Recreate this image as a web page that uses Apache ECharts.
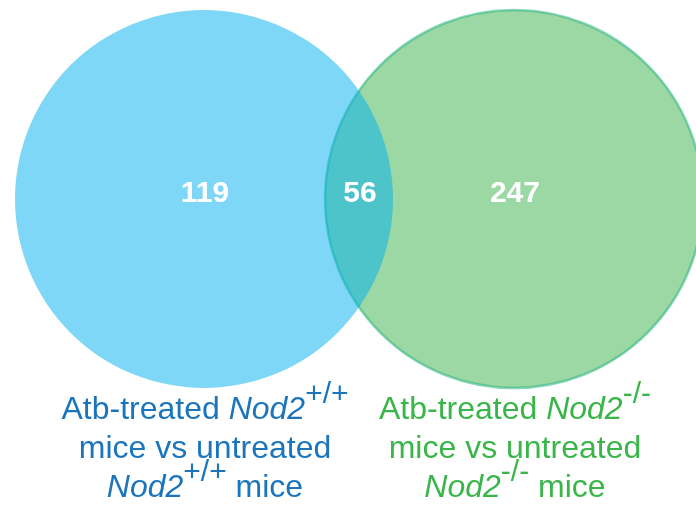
<!DOCTYPE html>
<html>
<head>
<meta charset="utf-8">
<script src="https://cdn.jsdelivr.net/npm/echarts@6/dist/echarts.min.js"></script>
<style>
html,body{margin:0;padding:0;background:#ffffff;}
#chart{width:696px;height:506px;}
</style>
</head>
<body>
<div id="chart"></div>
<script>
// ---- data ----
const setNames = ['Nod2+/+', 'Nod2-/-'];
const labelPrefix = ['Atb-treated ', 'Atb-treated '];
const geneNames = ['Nod2', 'Nod2'];
const genotypes = ['+/+', '-/-'];
const labelMiddle = ['mice vs untreated', 'mice vs untreated'];
const labelTail = [' mice', ' mice'];
const regionNames = ['Nod2+/+ only', 'shared', 'Nod2-/- only'];
const regionCounts = [119, 56, 247];

// ---- layout (units of circle radius) ----
const R = 1;          // circle radius
const D = 1.64;       // distance between circle centres
const setFill = ['rgba(0,175,239,0.5)', 'rgba(56,178,72,0.5)'];
const setStroke = [null, 'rgba(40,180,130,0.55)'];
const textColors = ['#1b75bc', '#39b54a'];
const FONT = '"Liberation Sans", Arial, sans-serif';

const chart = echarts.init(document.getElementById('chart'), null, {renderer: 'canvas'});

// circle items: [cx, cy, r, setIndex]; green drawn first so blue overlays it
const circleData = [[D, 0, R, 1], [0, 0, R, 0]];
const regionX = [0, D / 2, D];
const regionData = regionCounts.map((v, i) => [regionX[i], 0, v]);
const setLabelData = setNames.map((n, i) => [i === 0 ? 0 : D, -R, i]);

const option = {
  animation: false,
  backgroundColor: '#ffffff',
  grid: {left: 0, right: 0, top: 0, bottom: 0, containLabel: false},
  xAxis: {type: 'value', min: -1.0794, max: 2.6032, show: false},
  yAxis: {type: 'value', min: -1.6243, max: 1.0529, show: false},
  series: [
    {
      type: 'custom',
      name: 'sets',
      coordinateSystem: 'cartesian2d',
      data: circleData,
      renderItem: function (params, api) {
        const c = api.coord([api.value(0), api.value(1)]);
        const s = api.size([api.value(2), api.value(2)]);
        const k = api.value(3);
        const style = {fill: setFill[k]};
        if (setStroke[k]) { style.stroke = setStroke[k]; style.lineWidth = 2.5; }
        return {type: 'circle', shape: {cx: c[0], cy: c[1], r: s[0]}, style: style};
      },
      z: 1
    },
    {
      type: 'custom',
      name: 'counts',
      coordinateSystem: 'cartesian2d',
      data: regionData,
      renderItem: function (params, api) {
        const c = api.coord([api.value(0), api.value(1)]);
        return {
          type: 'text',
          style: {
            x: c[0] + 1, y: c[1] - 5.5,
            text: String(api.value(2)),
            fill: '#ffffff',
            font: 'bold 30px ' + FONT,
            align: 'center', verticalAlign: 'middle'
          }
        };
      },
      z: 3
    },
    {
      type: 'custom',
      name: 'setLabels',
      coordinateSystem: 'cartesian2d',
      data: setLabelData,
      renderItem: function (params, api) {
        const k = api.value(2);
        const c = api.coord([api.value(0), api.value(1)]);
        const col = textColors[k];
        const base = c[1];
        const rich = {
          n: {fontSize: 32, lineHeight: 32, fontFamily: FONT, fill: col, verticalAlign: 'bottom'},
          i: {fontSize: 32, lineHeight: 32, fontFamily: FONT, fontStyle: 'italic', fill: col, verticalAlign: 'bottom'},
          s: {fontSize: 30, lineHeight: 30, fontFamily: FONT, fill: col, verticalAlign: 'bottom', padding: [0, 0, 16, 0]}
        };
        const mk = (txt, dy) => ({
          type: 'text',
          style: {
            x: c[0] + 1, y: base + dy,
            text: txt, rich: rich,
            fill: col, fontSize: 32, fontFamily: FONT,
            align: 'center', verticalAlign: 'bottom'
          }
        });
        return {
          type: 'group',
          children: [
            mk('{n|' + labelPrefix[k] + '}{i|' + geneNames[k] + '}{s|' + genotypes[k] + '}', 38),
            mk('{n|' + labelMiddle[k] + '}', 77),
            mk('{i|' + geneNames[k] + '}{s|' + genotypes[k] + '}{n|' + labelTail[k] + '}', 116)
          ]
        };
      },
      z: 3
    }
  ]
};
chart.setOption(option);
</script>
</body>
</html>
